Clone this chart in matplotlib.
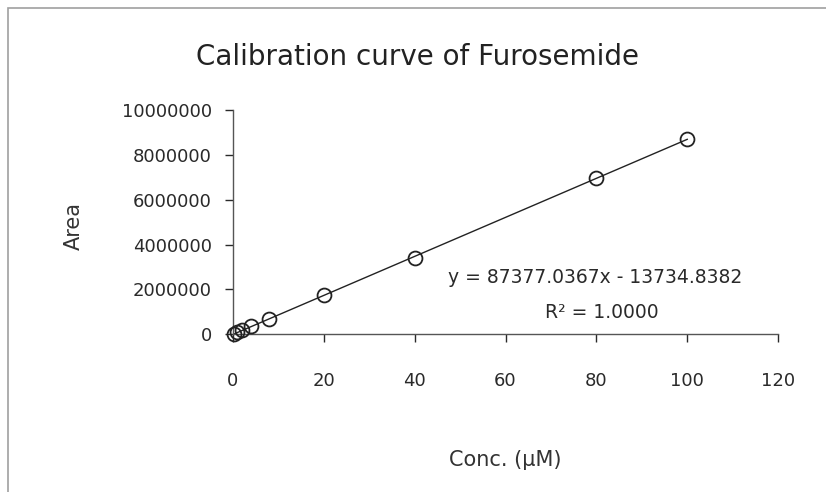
import numpy as np
import matplotlib
matplotlib.use("Agg")
import matplotlib.pyplot as plt
from matplotlib.patches import Rectangle

# Dados da curva de calibração
conc = [0.25, 1, 2, 4, 8, 20, 40, 80, 100]
area = [10000, 75000, 165000, 340000, 690000, 1740000, 3390000, 6990000, 8700000]
x_ticks = [0, 20, 40, 60, 80, 100, 120]
y_ticks = [0, 2000000, 4000000, 6000000, 8000000, 10000000]
equacao = "y = 87377.0367x - 13734.8382"
r2_texto = "R² = 1.0000"

plt.rcParams['font.family'] = ['DejaVu Sans']

fig = plt.figure(figsize=(8.26, 4.92), dpi=100)
ax = fig.add_axes([0.282, 0.321, 0.66, 0.455])

# moldura cinza em volta do gráfico
fig.patches.append(Rectangle((8 / 826, -0.01), 1.0, 1 - 8 / 492 + 0.01,
                             transform=fig.transFigure, fill=False,
                             edgecolor='#a0a0a0', linewidth=1.2))

# linha de tendência (ajuste linear dos dados)
coef = np.polyfit(conc, area, 1)
xl = np.array([0, max(conc)])
ax.plot(xl, np.polyval(coef, xl), color='#222222', linewidth=1.0, zorder=2)

ax.plot(conc, area, linestyle='none', marker='o', markersize=10,
        markerfacecolor='none', markeredgecolor='#222222', markeredgewidth=1.3,
        zorder=3, clip_on=False)

ax.set_xlim(0, 120)
ax.set_ylim(0, 10000000)
ax.set_xticks(x_ticks)
ax.set_yticks(y_ticks)
ax.set_yticklabels([str(v) for v in y_ticks])
ax.tick_params(axis='both', labelsize=13, colors='#2a2a2a', length=6,
               width=1, direction='out')
ax.tick_params(axis='y', pad=9)
ax.tick_params(axis='x', pad=21)

for lado in ['top', 'right']:
    ax.spines[lado].set_visible(False)
for lado in ['left', 'bottom']:
    ax.spines[lado].set_color('#555555')
    ax.spines[lado].set_linewidth(1.0)

# títulos e rótulos
fig.text(418 / 826, 1 - 57 / 492, "Calibration curve of Furosemide",
         fontsize=20, color='#222222', ha='center', va='center')
fig.text(505 / 826, 1 - 460 / 492, "Conc. (µM)", fontsize=15,
         color='#333333', ha='center', va='center')
fig.text(74 / 826, 1 - 226 / 492, "Area", fontsize=15, rotation=90,
         color='#333333', ha='center', va='center')

ax.text(0.665, 0.253, equacao, transform=ax.transAxes, fontsize=13.5,
        ha='center', va='center', color='#2a2a2a')
ax.text(0.677, 0.098, r2_texto, transform=ax.transAxes, fontsize=13.5,
        ha='center', va='center', color='#2a2a2a')

fig.savefig("out.png", dpi=100)
